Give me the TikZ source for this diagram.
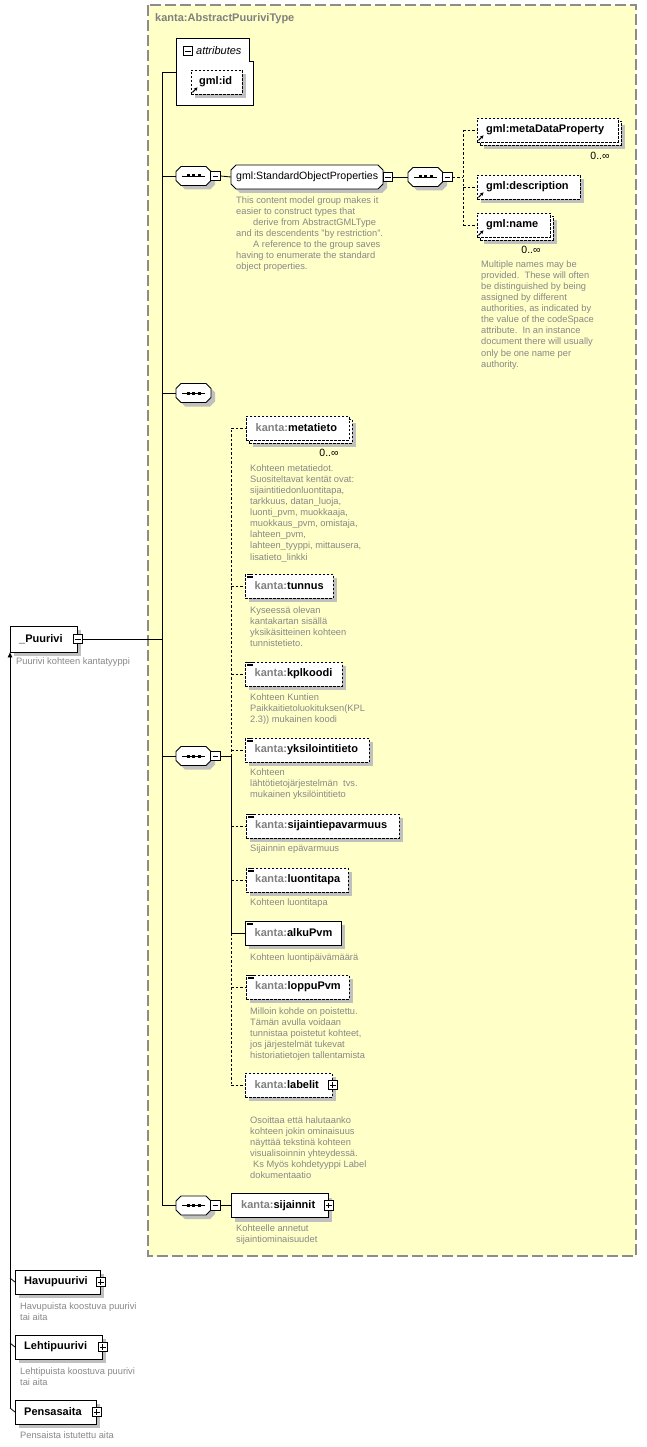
\documentclass[tikz,border=0pt]{standalone}
\usepackage{fontspec}
\setmainfont{Liberation Sans}
\usetikzlibrary{shadows,arrows.meta}
\definecolor{bgyellow}{HTML}{FFFFC8}
\definecolor{descgray}{HTML}{888888}
\definecolor{shadowgray}{HTML}{C0C0C0}
\definecolor{prefixgray}{HTML}{808080}
\definecolor{framegray}{HTML}{8C8C8C}
\newcommand\kp{\textcolor{prefixgray}{kanta:}}
\newcommand\etext[3]{\node[lbl] (#1t) at ([xshift=#2]#1.west) {#3};}
\newcommand\docicon[1]{%
  \draw[line width=0.6pt] ([xshift=2pt,yshift=-0.5pt]#1.north west) -- ++(6,0);
  \draw[line width=0.6pt] ([xshift=2pt,yshift=-2.3pt]#1.north west) -- ++(6,0);
  \draw[line width=0.6pt] ([xshift=2pt,yshift=-4.1pt]#1.north west) -- ++(6,0);}
\newcommand\reficon[1]{%
  \draw[line width=1pt,-{Stealth[length=3.5pt,width=3.5pt]}] ([xshift=1.5pt,yshift=2pt]#1.south west) -- ++(5,-5);}
% octagon: name, x, y, w, h
\newcommand\octagon[5]{%
  \fill[shadowgray] (#2+5+4,#3-#5/2+4) -- (#2+#4-5+4,#3-#5/2+4) -- (#2+#4+4,#3-#5/2+5+4) -- (#2+#4+4,#3+#5/2-5+4) -- (#2+#4-5+4,#3+#5/2+4) -- (#2+5+4,#3+#5/2+4) -- (#2+4,#3+#5/2-5+4) -- (#2+4,#3-#5/2+5+4) -- cycle;
  \filldraw[fill=white,line width=0.8pt] (#2+5,#3-#5/2) -- (#2+#4-5,#3-#5/2) -- (#2+#4,#3-#5/2+5) -- (#2+#4,#3+#5/2-5) -- (#2+#4-5,#3+#5/2) -- (#2+5,#3+#5/2) -- (#2,#3+#5/2-5) -- (#2,#3-#5/2+5) -- cycle;
  \node[inner sep=0pt, minimum width=#4, minimum height=#5, anchor=west] (#1) at (#2,#3) {};}
% sequence symbol: name, x, y
\newcommand\seqsym[3]{%
  \octagon{#1}{#2}{#3}{35}{19}
  \draw[line width=0.7pt] (#2+6,#3) -- (#2+29,#3);
  \foreach \dx in {12,17.5,23}{\fill (#2+\dx-1.5,#3-1.5) rectangle (#2+\dx+1.5,#3+1.5);}}
\begin{document}
\begin{tikzpicture}[x=1pt,y=-1pt,
  shadowed/.style={general shadow={shadow xshift=4pt,shadow yshift=-4pt,fill=shadowgray}},
  ebox/.style={draw=black, fill=white, line width=0.8pt, minimum height=24pt, inner sep=0pt, anchor=west, shadowed},
  opt/.style={ebox, dash pattern=on 2.5pt off 1.5pt},
  multi/.style={draw=black, fill=white, line width=0.8pt, minimum height=24pt, inner sep=0pt, anchor=west,
     general shadow={shadow xshift=7pt,shadow yshift=-7pt,fill=shadowgray},
     general shadow={shadow xshift=3pt,shadow yshift=-3pt,fill=white,draw=black,line width=0.8pt,dash pattern=on 2.5pt off 1.5pt},
     dash pattern=on 2.5pt off 1.5pt},
  lbl/.style={inner sep=0pt, anchor=west, font=\bfseries\fontsize{11}{13}\selectfont},
  desc/.style={inner sep=0pt, anchor=north west, align=left, text=descgray, font=\fontsize{9.3}{11.05}\selectfont},
  card/.style={inner sep=0pt, font=\fontsize{10.5}{12}\selectfont},
  mbox/.style={draw=black, fill=white, line width=0.7pt, minimum size=9.5pt, inner sep=0pt},
  minus/.style={mbox, path picture={\draw[line width=0.7pt] ([xshift=1.8pt]path picture bounding box.west) -- ([xshift=-1.8pt]path picture bounding box.east);}},
  plus/.style={mbox, path picture={\draw[line width=0.7pt] ([xshift=1.8pt]path picture bounding box.west) -- ([xshift=-1.8pt]path picture bounding box.east);
     \draw[line width=0.7pt] ([yshift=-1.8pt]path picture bounding box.north) -- ([yshift=1.8pt]path picture bounding box.south);}},
  conn/.style={line width=0.8pt},
  dconn/.style={line width=0.8pt, dash pattern=on 2.5pt off 2pt}
]
\useasboundingbox (0,0) rectangle (647,1447);
\fill[white] (0,0) rectangle (647,1447);
% type frame
\draw[framegray, fill=bgyellow, line width=1.1pt, dash pattern=on 11pt off 4pt] (148,5) rectangle (636,1256);
\node[inner sep=0pt, anchor=west, text=prefixgray, font=\bfseries\fontsize{11}{13}\selectfont] (title) at (155,18.5) {kanta:AbstractPuuriviType};

% attributes
\draw[line width=0.8pt, fill=white] (176,38) -- (249,38) -- (249,61) -- (253,61) -- (253,105) -- (176,105) -- cycle;
\node[minus] (attrm) at (188,51) {};
\node[inner sep=0pt, anchor=west, font=\itshape\fontsize{11}{13}\selectfont] (attrt) at (196,51) {attributes};
\node[opt, minimum width=51] (gid) at (191,82) {};
\etext{gid}{8pt}{gml:id}
\reficon{gid}
\coordinate (attr) at (176,72);
\coordinate (mtop) at (162,72);
\coordinate (mbot) at (162,1205.5);
\draw[conn] (attr) -- (mtop) -- (mbot);

% sequence 1
\seqsym{s1}{176}{176}
\node[minus] (s1m) at (215.5,176) {};
\draw[conn] (mtop |- s1.west) -- (s1.west);
\octagon{sop}{231}{177}{152}{24}
\node[inner sep=0pt, anchor=west, font=\fontsize{10.6}{12}\selectfont] (sopt) at (236,177) {gml:StandardObjectProperties};
\node[minus] (sopm) at (388,177) {};
\draw[conn] (s1m.east) -- (sop.west);
\seqsym{s1b}{408}{177}
\node[minus] (s1bm) at (447.5,177) {};
\draw[conn] (sopm.east) -- (s1b.west);
\node[desc] (dsop) at (236,196.7) {This content model group makes it\\easier to construct types that\\\hspace*{17pt}derive from AbstractGMLType\\and its descendents "by restriction".\\\hspace*{17pt}A reference to the group saves\\having to enumerate the standard\\object properties.};

\node[multi, minimum width=141] (mdp) at (477,130) {};
\etext{mdp}{9pt}{gml:metaDataProperty}
\reficon{mdp}
\node[card] (cmdp) at (600,156) {0..∞};
\node[opt, minimum width=103] (gdesc) at (477,187) {};
\etext{gdesc}{9pt}{gml:description}
\reficon{gdesc}
\node[multi, minimum width=73] (gname) at (477,225) {};
\etext{gname}{9pt}{gml:name}
\reficon{gname}
\node[card] (cname) at (531,250) {0..∞};
\node[desc] (dname) at (481,260.7) {Multiple names may be\\provided.\ \ These will often\\be distinguished by being\\assigned by different\\authorities, as indicated by\\the value of the codeSpace\\attribute.\ \ In an instance\\document there will usually\\only be one name per\\authority.};
\coordinate (c1) at (463,177);
\draw[dconn] (s1bm.east) -- (c1);
\draw[dconn] (c1 |- mdp.west) -- (c1 |- gname.west);
\draw[dconn] (c1 |- mdp.west) -- (mdp.west);
\draw[dconn] (c1 |- gdesc.west) -- (gdesc.west);
\draw[dconn] (c1 |- gname.west) -- (gname.west);

% sequence 2
\seqsym{s2}{176}{393}
\draw[conn] (mtop |- s2.west) -- (s2.west);

% sequence 3
\seqsym{s3}{176}{756}
\node[minus] (s3m) at (215.5,756) {};
\draw[conn] (mtop |- s3.west) -- (s3.west);
\coordinate (c3) at (231,756);
\draw[conn] (s3m.east) -- (c3);

\node[multi, minimum width=103] (meta) at (246,428) {};
\etext{meta}{9.5pt}{\kp metatieto}
\node[card] (cmeta) at (329,453) {0..∞};
\node[desc] (dmeta) at (250,464.7) {Kohteen metatiedot.\\Suositeltavat kentät ovat:\\sijaintitiedonluontitapa,\\tarkkuus, datan\_luoja,\\luonti\_pvm, muokkaaja,\\muokkaus\_pvm, omistaja,\\lahteen\_pvm,\\lahteen\_tyyppi, mittausera,\\lisatieto\_linkki};

\node[opt, minimum width=88] (tunnus) at (245,586) {};
\etext{tunnus}{9.5pt}{\kp tunnus}
\docicon{tunnus}
\node[desc] (dtunnus) at (250,606.7) {Kyseessä olevan\\kantakartan sisällä\\yksikäsitteinen kohteen\\tunnistetieto.};

\node[opt, minimum width=97] (kpl) at (245,674) {};
\etext{kpl}{9.5pt}{\kp kplkoodi}
\docicon{kpl}
\node[desc] (dkpl) at (250,693.7) {Kohteen Kuntien\\Paikkaitietoluokituksen(KPL\\2.3)) mukainen koodi};

\node[opt, minimum width=124] (yks) at (245,750) {};
\etext{yks}{9.5pt}{\kp yksilointitieto}
\docicon{yks}
\node[desc] (dyks) at (250,768.7) {Kohteen\\lähtötietojärjestelmän\ \ tvs.\\mukainen yksilöintitieto};

\node[opt, minimum width=153] (sep) at (246,826) {};
\etext{sep}{9pt}{\kp sijaintiepavarmuus}
\docicon{sep}
\node[desc] (dsep) at (250,844.7) {Sijainnin epävarmuus};

\node[opt, minimum width=102] (luo) at (246,880) {};
\etext{luo}{9pt}{\kp luontitapa}
\docicon{luo}
\node[desc] (dluo) at (250,898.7) {Kohteen luontitapa};

\node[ebox, minimum width=96] (alku) at (245,933) {};
\etext{alku}{9.5pt}{\kp alkuPvm}
\docicon{alku}
\node[desc] (dalku) at (250,953.7) {Kohteen luontipäivämäärä};

\node[opt, minimum width=103] (loppu) at (246,987) {};
\etext{loppu}{9pt}{\kp loppuPvm}
\docicon{loppu}
\node[desc] (dloppu) at (250,1007.7) {Milloin kohde on poistettu.\\Tämän avulla voidaan\\tunnistaa poistetut kohteet,\\jos järjestelmät tukevat\\historiatietojen tallentamista};

\node[opt, minimum width=87] (lab) at (245,1085) {};
\etext{lab}{9.5pt}{\kp labelit}
\node[plus] (labp) at (lab.east) {};
\node[desc] (dlab) at (250,1116.7) {Osoittaa että halutaanko\\kohteen jokin ominaisuus\\näyttää tekstinä kohteen\\visualisoinnin yhteydessä.\\\hspace*{3pt}Ks Myös kohdetyyppi Label\\dokumentaatio};

\draw[dconn] (c3) -- (c3 |- meta.west);
\draw[conn] (c3) -- (c3 |- alku.west);
\draw[dconn] (c3 |- alku.west) -- (c3 |- lab.west);
\foreach \n in {meta,tunnus,kpl,yks,sep,luo,loppu,lab}{\draw[dconn] (c3 |- \n.west) -- (\n.west);}
\draw[conn] (c3 |- alku.west) -- (alku.west);

% sequence 4
\seqsym{s4}{176}{1205.5}
\node[minus] (s4m) at (215.5,1205.5) {};
\draw[conn] (mtop |- s4.west) -- (s4.west);
\node[ebox, minimum width=97] (sij) at (231,1205.5) {};
\etext{sij}{10pt}{\kp sijainnit}
\node[plus] (sijp) at (sij.east) {};
\draw[conn] (s4m.east) -- (sij.west);
\node[desc] (dsij) at (236,1224.7) {Kohteelle annetut\\sijaintiominaisuudet};

% _Puurivi
\node[ebox, minimum width=67, minimum height=26] (puu) at (10,639) {};
\etext{puu}{9pt}{\_Puurivi}
\node[minus] (puum) at (puu.east) {};
\draw[conn] (puum.east) -- (mtop |- puum.east);
\node[desc] (dpuu) at (16,657.7) {Puurivi kohteen kantatyyppi};

% derived types
\node[ebox, minimum width=85] (havu) at (15,1282) {};
\etext{havu}{9pt}{Havupuurivi}
\node[plus] (havup) at (havu.east) {};
\node[desc] (dhavu) at (20,1302.7) {Havupuista koostuva puurivi\\tai aita};
\node[ebox, minimum width=87] (leh) at (15,1347) {};
\etext{leh}{9pt}{Lehtipuurivi}
\node[plus] (lehp) at (leh.east) {};
\node[desc] (dleh) at (20,1367.7) {Lehtipuista koostuva puurivi\\tai aita};
\node[ebox, minimum width=81] (pen) at (15,1412) {};
\etext{pen}{9pt}{Pensasaita}
\node[plus] (penp) at (pen.east) {};
\node[desc] (dpen) at (20,1431.7) {Pensaista istutettu aita};

\coordinate (lbot) at (10,1408);
\draw[conn, -{Triangle[length=5pt,width=4.5pt]}] (lbot) -- (puu.south west);
\draw[conn] (10,1278) -- (havu.west);
\draw[conn] (10,1343) -- (leh.west);
\draw[conn] (lbot) -- (pen.west);
\end{tikzpicture}
\end{document}
